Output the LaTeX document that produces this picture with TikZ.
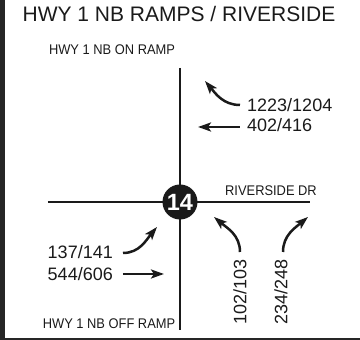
\documentclass[tikz,border=0pt]{standalone}
\usepackage{fontspec}
\setmainfont{Liberation Sans}
\newfontfamily\narrowfont[FakeStretch=0.92]{Liberation Sans}
\usetikzlibrary{arrows.meta,positioning}
\definecolor{mapInk}{HTML}{1A1A1A}
\definecolor{mapFrame}{HTML}{262626}

\begin{document}
\begin{tikzpicture}[x=1pt,y=1pt,
    road/.style={draw=mapInk,line width=2.2pt},
    move/.style={draw=mapInk,line width=2.5pt,
                 -{Stealth[length=13pt,width=9pt,inset=3pt]}},
    vol/.style={font=\fontsize{18}{20}\selectfont,text=mapInk,inner sep=0pt},
    street/.style={font=\narrowfont\fontsize{14}{16}\selectfont,text=mapInk,inner sep=0pt},
    ixn/.style={circle,fill=mapInk,minimum size=35pt,inner sep=0pt,
                text=white,font=\bfseries\fontsize{23.5}{24}\selectfont}]
  \useasboundingbox (0,0) rectangle (360,340);
  % frame
  \fill[mapFrame] (0,0) rectangle (5,340);
  \fill[mapFrame] (0,0) rectangle (360,2.4);

  \node[inner sep=0pt,anchor=base,font=\fontsize{21}{24}\selectfont,text=mapInk]
    (title) at (179,318) {HWY 1 NB RAMPS / RIVERSIDE};

  % roads
  \coordinate (rdN) at (180,272);
  \coordinate (rdS) at (180,10);
  \coordinate (rdW) at (48,138);
  \coordinate (rdE) at (310,138);
  \draw[road] (rdN) -- (rdS);
  \draw[road] (rdW) -- (rdE);
  \node[ixn] (int14) at (180,138) {14};

  \node[street,anchor=base] (onramp)  at (112,285) {HWY 1 NB ON RAMP};
  \node[street,anchor=base] (offramp) at (109,11)  {HWY 1 NB OFF RAMP};
  \node[street,anchor=base] (river)   at (271,144) {RIVERSIDE DR};

  % volumes
  \node[vol,anchor=base west] (v1223) at (247,228) {1223/1204};
  \node[vol,anchor=base west] (v402)  at (247,208) {402/416};
  \node[vol,anchor=base east] (v137)  at (113,81)  {137/141};
  \node[vol,anchor=base east] (v544)  at (113,59)  {544/606};
  \node[vol,rotate=90] (v102) at (240,48) {102/103};
  \node[vol,rotate=90] (v234) at (281,48) {234/248};

  % turning movements
  \coordinate (m1a) at (240,235);  \coordinate (m1b) at (205,259);
  \coordinate (m2a) at (240,213);  \coordinate (m2b) at (198,213);
  \coordinate (m3a) at (123,87);   \coordinate (m3b) at (157,113);
  \coordinate (m4a) at (123,66);   \coordinate (m4b) at (164,66);
  \coordinate (m5a) at (240,88);   \coordinate (m5b) at (214,123);
  \coordinate (m6a) at (283,88);   \coordinate (m6b) at (308,123);
  \draw[move] (m1a) to[out=180,in=-50] (m1b);
  \draw[move] (m2a) -- (m2b);
  \draw[move] (m3a) to[out=0,in=230] (m3b);
  \draw[move] (m4a) -- (m4b);
  \draw[move] (m5a) to[out=90,in=-40] (m5b);
  \draw[move] (m6a) to[out=90,in=220] (m6b);
\end{tikzpicture}
\end{document}
